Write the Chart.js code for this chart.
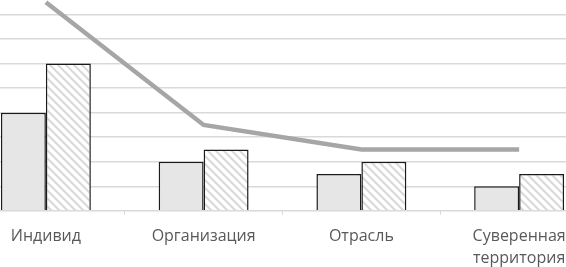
<!DOCTYPE html>
<html>
<head>
<meta charset="utf-8">
<script src="https://cdn.jsdelivr.net/npm/chart.js@4/dist/chart.umd.min.js"></script>
<style>
  html, body { margin: 0; padding: 0; background: #fff; overflow: hidden; width: 566px; height: 267px; }
  #wrap { position: absolute; left: -33px; top: -10px; width: 631px; height: 290px; }
</style>
</head>
<body>
<div id="wrap"><canvas id="chart"></canvas></div>
<script>
// Data
const categories = ["Индивид", "Организация", "Отрасль", ["Суверенная", "территория"]];
const solidValues = [4, 2, 1.5, 1];
const hatchedValues = [6, 2.5, 2, 1.5];
const lineValues = [8.5, 3.5, 2.5, 2.5];

// Diagonal hatch pattern
function makeHatch() {
  const size = 8;
  const c = document.createElement("canvas");
  c.width = size;
  c.height = size;
  const ctx = c.getContext("2d");
  ctx.fillStyle = "#ffffff";
  ctx.fillRect(0, 0, size, size);
  ctx.strokeStyle = "#d9d9d9";
  ctx.lineWidth = 2;
  ctx.beginPath();
  ctx.moveTo(-2, -2);
  ctx.lineTo(size + 2, size + 2);
  ctx.moveTo(-2, size - 2);
  ctx.lineTo(2, size + 2);
  ctx.moveTo(size - 2, -2);
  ctx.lineTo(size + 2, 2);
  ctx.stroke();
  return ctx.createPattern(c, "repeat");
}

const hatch = makeHatch();

new Chart(document.getElementById("chart"), {
  type: "bar",
  data: {
    labels: categories,
    datasets: [
      {
        type: "line",
        data: lineValues,
        borderColor: "#a6a6a6",
        borderWidth: 4.5,
        pointRadius: 0,
        fill: false,
        tension: 0,
        order: 0,
      },
      {
        data: solidValues,
        backgroundColor: "#e6e6e6",
        borderColor: "#1a1a1a",
        borderWidth: 1.5,
        categoryPercentage: 0.57,
        barPercentage: 1,
        order: 1,
      },
      {
        data: hatchedValues,
        backgroundColor: hatch,
        borderColor: "#1a1a1a",
        borderWidth: 1.5,
        categoryPercentage: 0.57,
        barPercentage: 1,
        order: 1,
      },
    ],
  },
  options: {
    responsive: true,
    maintainAspectRatio: false,
    animation: false,
    layout: { padding: 0 },
    plugins: {
      legend: { display: false },
      tooltip: { enabled: false },
    },
    scales: {
      x: {
        grid: {
          offset: true,
          drawOnChartArea: false,
          tickLength: 4,
          color: "#d9d9d9",
        },
        border: { color: "#d9d9d9", width: 1 },
        ticks: {
          color: "#595959",
          font: { family: "'Open Sans', sans-serif", size: 16, lineHeight: 1.35 },
          padding: 11,
          maxRotation: 0,
          autoSkip: false,
        },
      },
      y: {
        min: 0,
        max: 9,
        ticks: { display: false, stepSize: 1 },
        grid: { color: "#d9d9d9", drawTicks: false, lineWidth: 1.5 },
        border: { display: false },
      },
    },
  },
});
</script>
</body>
</html>
